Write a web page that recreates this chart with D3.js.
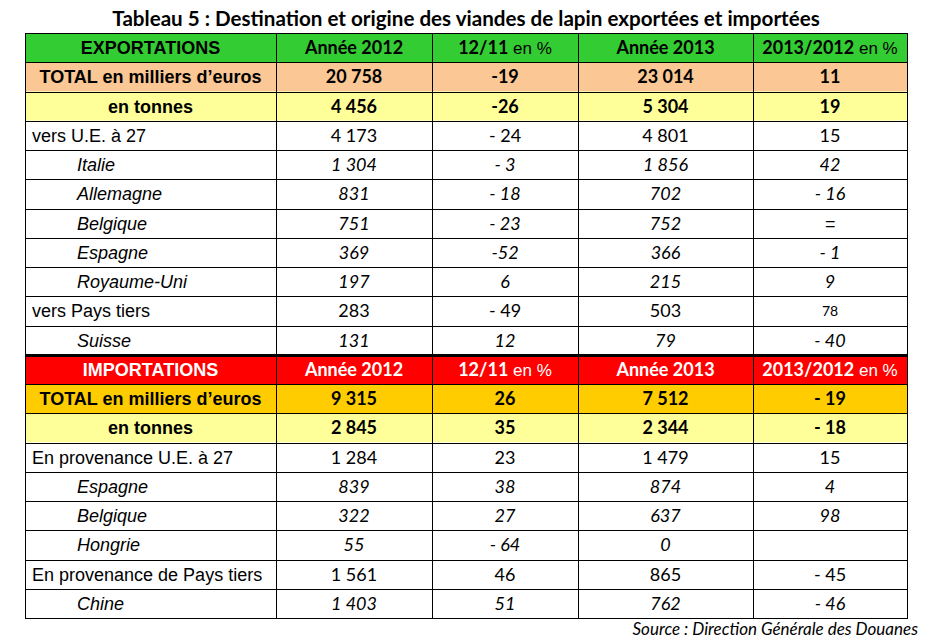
<!DOCTYPE html>
<html>
<head>
<meta charset="utf-8">
<script src="https://cdn.jsdelivr.net/npm/d3@7"></script>
<style>
  body { margin: 0; background: #fff; }
  svg { display: block; }
</style>
</head>
<body>
<div class="canvas"></div>
<script>
// table data
const title = "Tableau 5 : Destination et origine des viandes de lapin exportées et importées";
const source = "Source : Direction Générale des Douanes";
const exportHeader = ["EXPORTATIONS", "Année 2012", "12/11", "Année 2013", "2013/2012"];
const importHeader = ["IMPORTATIONS", "Année 2012", "12/11", "Année 2013", "2013/2012"];

const exportLabels = ["TOTAL en milliers d’euros", "en tonnes", "vers U.E. à 27", "Italie", "Allemagne",
  "Belgique", "Espagne", "Royaume-Uni", "vers Pays tiers", "Suisse"];
const exportKinds = ["total", "tonnes", "group", "country", "country", "country", "country", "country", "group", "country"];
const export2012 = [20758, 4456, 4173, 1304, 831, 751, 369, 197, 283, 131];
const exportVar1211 = ["-19", "-26", "- 24", "- 3", "- 18", "- 23", "-52", "6", "- 49", "12"];
const export2013 = [23014, 5304, 4801, 1856, 702, 752, 366, 215, 503, 79];
const exportVar1312 = ["11", "19", "15", "42", "- 16", "=", "- 1", "9", "78", "- 40"];

const importLabels = ["TOTAL en milliers d’euros", "en tonnes", "En provenance U.E. à 27", "Espagne", "Belgique",
  "Hongrie", "En provenance de Pays tiers", "Chine"];
const importKinds = ["total", "tonnes", "group", "country", "country", "country", "group", "country"];
const import2012 = [9315, 2845, 1284, 839, 322, 55, 1561, 1403];
const importVar1211 = ["26", "35", "23", "38", "27", "- 64", "46", "51"];
const import2013 = [7512, 2344, 1479, 874, 637, 0, 865, 762];
const importVar1312 = ["- 19", "- 18", "15", "4", "98", "", "- 45", "- 46"];

// layout
const w = 934;
const h = 643;
const colEdges = [25, 276, 432, 578, 753, 907];
const tableTop = 33;
const tableBottom = 618;
const arial = "'Liberation Sans', Arial, sans-serif";
const calibri = "Lato, 'Open Sans', sans-serif";

const fmt = d3.formatLocale({ decimal: ",", thousands: "\u00a0", grouping: [3], currency: ["", "€"] }).format(",d");

// build rows
const rows = [];
function addSection(section, header, labels, kinds, y12, v12, y13, v13) {
  rows.push({ kind: "header", section, cells: header });
  labels.forEach((l, i) => {
    rows.push({ kind: kinds[i], section, cells: [l, fmt(y12[i]), v12[i], fmt(y13[i]), v13[i]] });
  });
}
addSection(0, exportHeader, exportLabels, exportKinds, export2012, exportVar1211, export2013, exportVar1312);
addSection(1, importHeader, importLabels, importKinds, import2012, importVar1211, import2013, importVar1312);

const fills = {
  "0-header": "#33cc33", "0-total": "#fbc794", "0-tonnes": "#ffff99",
  "1-header": "#ff0000", "1-total": "#ffcc00", "1-tonnes": "#ffff99"
};

const y = d3.scaleBand().domain(d3.range(rows.length)).range([tableTop, tableBottom]);
const xLeft = d3.scaleOrdinal().domain(d3.range(5)).range(colEdges.slice(0, 5));
const xRight = d3.scaleOrdinal().domain(d3.range(5)).range(colEdges.slice(1));

const svg = d3.select(".canvas").append("svg").attr("width", w).attr("height", h);

// title
svg.append("text")
  .attr("x", (colEdges[0] + colEdges[5]) / 2)
  .attr("y", 26)
  .attr("text-anchor", "middle")
  .style("font-family", calibri)
  .style("font-weight", "bold")
  .style("font-size", "20.6px")
  .text(title);

// row backgrounds
const rowG = svg.selectAll("g.row")
  .data(rows)
  .enter()
  .append("g")
  .attr("class", "row")
  .attr("transform", (d, i) => `translate(0, ${y(i)})`);

rowG.append("rect")
  .attr("x", colEdges[0])
  .attr("width", colEdges[5] - colEdges[0])
  .attr("height", y.bandwidth())
  .attr("fill", (d) => fills[`${d.section}-${d.kind}`] || "#fff");

// cell texts
rowG.each(function (d, ri) {
  const g = d3.select(this);
  d.cells.forEach((txt, ci) => {
    const bold = d.kind === "header" || d.kind === "total" || d.kind === "tonnes";
    const italic = d.kind === "country";
    const leftAligned = ci === 0 && (d.kind === "group" || d.kind === "country");
    const t = g.append("text")
      .attr("y", y.bandwidth() / 2)
      .attr("dy", "0.36em")
      .attr("fill", d.kind === "header" && d.section === 1 ? "#fff" : "#000")
      .style("font-weight", bold ? "bold" : "normal")
      .style("font-style", italic ? "italic" : "normal");
    if (leftAligned) {
      t.attr("x", xLeft(ci) + (d.kind === "group" ? 7 : 52)).attr("text-anchor", "start");
    } else {
      t.attr("x", (xLeft(ci) + xRight(ci)) / 2).attr("text-anchor", "middle");
    }
    if (ci === 0 || txt === "=") {
      t.style("font-family", arial).style("font-size", "18px").text(txt);
    } else {
      t.style("font-family", calibri).style("font-size", txt === "78" ? "14px" : "18px").text(txt);
      if (d.kind === "header" && (ci === 2 || ci === 4)) {
        t.append("tspan")
          .style("font-family", arial)
          .style("font-weight", "normal")
          .style("font-size", "17px")
          .text(ci === 2 ? "  en %" : " en %");
      }
    }
  });
});

// grid lines
svg.selectAll("line.h")
  .data(d3.range(rows.length + 1))
  .enter()
  .append("line")
  .attr("x1", colEdges[0])
  .attr("x2", colEdges[5] + 0.5)
  .attr("y1", (i) => Math.round(i < rows.length ? y(i) : tableBottom) + 0.5)
  .attr("y2", (i) => Math.round(i < rows.length ? y(i) : tableBottom) + 0.5)
  .attr("stroke", "#000")
  .attr("stroke-width", (i) => (rows[i] && rows[i].kind === "header" && i > 0 ? 3 : 1));

svg.selectAll("line.v")
  .data(colEdges)
  .enter()
  .append("line")
  .attr("x1", (d) => d + 0.5)
  .attr("x2", (d) => d + 0.5)
  .attr("y1", tableTop)
  .attr("y2", tableBottom + 1)
  .attr("stroke", "#000")
  .attr("stroke-width", 1);

// source
svg.append("text")
  .attr("x", 918)
  .attr("y", 635)
  .attr("text-anchor", "end")
  .style("font-family", calibri)
  .style("font-style", "italic")
  .style("font-size", "17px")
  .text(source);
</script>
</body>
</html>
